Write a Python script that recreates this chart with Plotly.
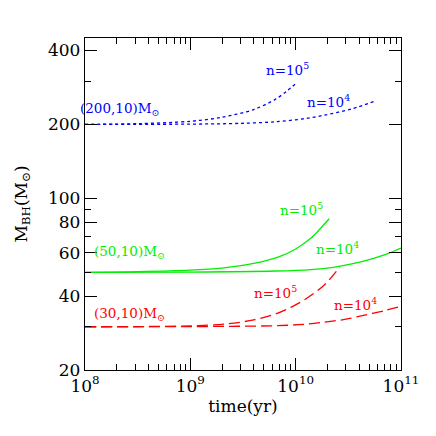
import math
import plotly.graph_objects as go

# time (yr) and black-hole mass (Msun)
t_b5 = [1e8, 3.2e8, 1e9, 2e9, 4e9, 6.4e9, 8.3e9, 1.03e10]
m_b5 = [200, 201.5, 206, 214, 230, 253, 274, 296]
t_b4 = [1e8, 1e9, 3e9, 6.4e9, 1.2e10, 1.85e10, 3.48e10, 5.7e10]
m_b4 = [200, 200.6, 202, 205, 211, 218, 232, 249]

t_g5 = [1e8, 3.2e8, 1e9, 2e9, 4e9, 7e9, 1e10, 1.4e10, 1.7e10, 2.08e10]
m_g5 = [50, 50.3, 51.0, 52.0, 54.3, 57.9, 62.2, 68.9, 75.0, 82.6]
t_g4 = [1e8, 1e9, 6.4e9, 1.4e10, 2.28e10, 3.5e10, 5.3e10, 7.5e10, 1e11]
m_g4 = [50, 50.1, 50.6, 51.3, 52.4, 54.2, 56.7, 59.5, 62.7]

t_r5 = [1e8, 3.2e8, 1e9, 2.2e9, 4e9, 6.4e9, 9e9, 1.21e10, 1.85e10, 2.62e10]
m_r5 = [30, 30.05, 30.25, 30.8, 32.0, 33.8, 36.0, 38.6, 44.2, 52.4]
t_r4 = [1e8, 1e9, 6.4e9, 1.2e10, 1.85e10, 3e10, 4.3e10, 7e10, 1e11]
m_r4 = [30, 30.05, 30.3, 30.7, 31.3, 32.2, 33.3, 34.9, 36.3]

x_ticks = [1e8, 1e9, 1e10, 1e11]
x_ticktext = ["10<sup>8</sup>", "10<sup>9</sup>", "10<sup>10</sup>", "10<sup>11</sup>"]
x_minor = [m * 10**e for e in (8, 9, 10) for m in range(2, 10)]
y_ticks = [20, 40, 60, 80, 100, 200, 400]
y_minor = [30, 50, 70, 90, 300]

BLUE, GREEN, RED = "#0000ff", "#00ee00", "#ff0000"
FONT = "DejaVu Serif"

fig = go.Figure()
def add(t, m, color, dash):
    fig.add_trace(go.Scatter(x=t, y=m, mode="lines",
                             line=dict(color=color, width=1.3, dash=dash, shape="spline", smoothing=0.9),
                             showlegend=False, hoverinfo="skip"))

add(t_b5, m_b5, BLUE, "dot")
add(t_b4, m_b4, BLUE, "dot")
add(t_g5, m_g5, GREEN, "solid")
add(t_g4, m_g4, GREEN, "solid")
add(t_r5, m_r5, RED, "11px,5px")
add(t_r4, m_r4, RED, "11px,5px")

labels = [
    (1.0e8, 232, "(200,10)M<sub>⊙</sub>", BLUE, -7),
    (5.4e9, 337, "n=10<sup>5</sup>", BLUE, -3),
    (1.29e10, 248, "n=10<sup>4</sup>", BLUE, -2),
    (1.32e8, 60.4, "(50,10)M<sub>⊙</sub>", GREEN, -6),
    (7.7e9, 90.5, "n=10<sup>5</sup>", GREEN, -6),
    (1.72e10, 62.7, "n=10<sup>4</sup>", GREEN, -6),
    (1.32e8, 33.8, "(30,10)M<sub>⊙</sub>", RED, -6),
    (4.1e9, 41.4, "n=10<sup>5</sup>", RED, -3),
    (2.3e10, 37.0, "n=10<sup>4</sup>", RED, -2),
]
for x, y, txt, c, dx in labels:
    fig.add_annotation(x=math.log10(x), y=math.log10(y), text=txt, showarrow=False, xshift=dx,
                       xanchor="left", yanchor="middle", font=dict(family=FONT, size=13.5, color=c))

axis_common = dict(type="log", showgrid=False, zeroline=False, showline=True, linecolor="black",
                   linewidth=1.3, mirror="allticks", ticks="inside", ticklen=12, tickwidth=1.3,
                   tickcolor="black", tickfont=dict(family=FONT, size=17, color="black"))
fig.update_xaxes(**axis_common, range=[8, 11], tickmode="array", tickvals=x_ticks, ticktext=x_ticktext,
                 minor=dict(tickvals=x_minor, ticks="inside", ticklen=6, tickwidth=1.1, tickcolor="black"),
                 title=dict(text="time(yr)", font=dict(family=FONT, size=17, color="black"), standoff=4))
fig.update_yaxes(**axis_common, range=[1.30103, 2.653], tickmode="array", tickvals=y_ticks,
                 ticktext=[str(v) for v in y_ticks],
                 minor=dict(tickvals=y_minor, ticks="inside", ticklen=6, tickwidth=1.1, tickcolor="black"),
                 title=dict(text="M<sub>BH</sub>(M<sub>⊙</sub>)", font=dict(family=FONT, size=17, color="black"), standoff=16))

fig.update_layout(width=436, height=436, margin=dict(l=66, r=43, t=30, b=74),
                  plot_bgcolor="white", paper_bgcolor="white")
fig.write_html("out.html")
